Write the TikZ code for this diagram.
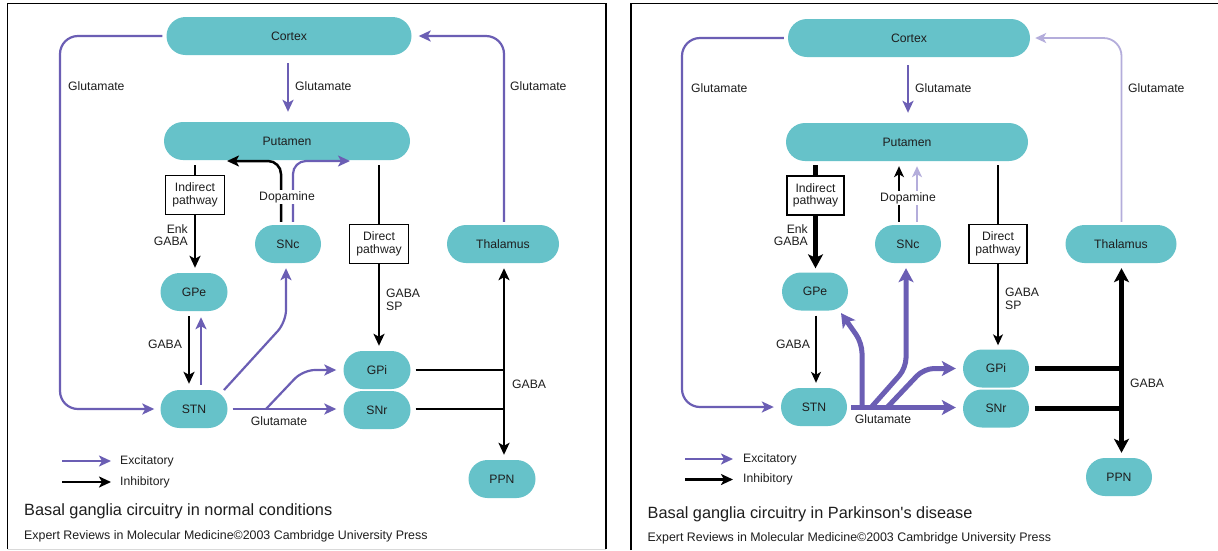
\documentclass[tikz,border=0pt]{standalone}
\usepackage{fontspec}
\setmainfont{Liberation Sans}
\usetikzlibrary{arrows.meta,shapes.misc,calc}
\definecolor{nodeteal}{HTML}{66C2C9}
\definecolor{purp}{HTML}{6B5EB4}
\definecolor{lpurp}{HTML}{B4ADDB}
\definecolor{txt}{HTML}{1E1E1E}
\tikzset{
  pill/.style={rounded rectangle, fill=nodeteal, draw=none, minimum height=38pt, inner sep=0pt, font=\fontsize{12.2}{14}\selectfont, text=txt},
  pathbox/.style={rectangle, draw=black, line width=1.3pt, fill=white, minimum height=39pt, inner sep=0pt, align=center, font=\fontsize{12.2}{12.5}\selectfont, text=txt},
  lbl/.style={inner sep=0pt, font=\fontsize{12.2}{12.5}\selectfont, text=txt},
  ttl/.style={inner sep=0pt, anchor=west, font=\fontsize{16.3}{18}\selectfont, text=txt},
  cred/.style={inner sep=0pt, anchor=west, font=\fontsize{12.4}{14}\selectfont, text=txt},
  exc/.style={draw=purp, line width=2.2pt, -{Stealth[length=12pt,width=11pt,inset=3pt]}},
  inh/.style={draw=black, line width=2.5pt, -{Stealth[length=12pt,width=11pt,inset=3pt]}},
  inhboth/.style={draw=black, line width=2.5pt, {Stealth[length=12pt,width=11pt,inset=3pt]}-{Stealth[length=12pt,width=11pt,inset=3pt]}},
  blk/.style={draw=black, line width=2.5pt},
  thinblk/.style={draw=black, line width=1.3pt},
  thininh/.style={draw=black, line width=1.3pt, -{Stealth[length=11pt,width=10pt,inset=3pt]}},
  thinexcl/.style={draw=lpurp, line width=1.8pt, -{Stealth[length=11pt,width=10pt,inset=3pt]}},
  thkexc/.style={draw=purp, line width=5pt, -{Stealth[length=14pt,width=15pt,inset=3.5pt]}},
  thkblk/.style={draw=black, line width=5pt},
  thkinh/.style={draw=black, line width=5pt, -{Stealth[length=14pt,width=15pt,inset=3.5pt]}},
  thkinhboth/.style={draw=black, line width=5pt, {Stealth[length=14pt,width=15pt,inset=3.5pt]}-{Stealth[length=14pt,width=15pt,inset=3.5pt]}},
  whitelbl/.style={lbl, fill=white, inner sep=1.5pt}
}
\begin{document}
\begin{tikzpicture}[x=1pt,y=-1pt]
\useasboundingbox (0,0) rectangle (1218,550);
\fill[white] (0,0) rectangle (1218,550);
% frames
\draw[line width=1.2pt] (7.5,549) -- (7.5,3.5) -- (606,3.5) -- (606,549);
\draw[black!15, line width=1pt] (7.5,549) -- (606,549);
\draw[line width=1.2pt] (631,550) -- (631,3.5) -- (1218,3.5);

% ================= LEFT PANEL =================
\node[pill, minimum width=245pt] (Lcortex) at (289,36) {Cortex};
\node[pill, minimum width=246pt] (Lput) at (287,141) {Putamen};
\node[pathbox, minimum width=59pt] (Lind) at (195,195) {Indirect\\pathway};
\node[pill, minimum width=67pt] (Lgpe) at (194,292) {GPe};
\node[pill, minimum width=67pt] (Lstn) at (194,409) {STN};
\node[pill, minimum width=66pt] (Lsnc) at (288,244) {SNc};
\node[pathbox, minimum width=59pt] (Ldir) at (379,244) {Direct\\pathway};
\node[pill, minimum width=67pt] (Lgpi) at (377,370) {GPi};
\node[pill, minimum width=67pt] (Lsnr) at (377,410) {SNr};
\node[pill, minimum width=112pt] (Lthal) at (503,244) {Thalamus};
\node[pill, minimum width=67pt] (Lppn) at (502,479) {PPN};

% cortex -> putamen
\draw[exc] ($(Lcortex.south)+(-1,8)$) -- ($(Lcortex.south |- Lput.north)+(-1,-10)$);
\node[lbl, anchor=west] (LglutC) at (295,86) {Glutamate};
% cortex -> STN loop
\draw[exc, rounded corners=18pt] ($(Lcortex.west)+(-4,0)$) -- (60,36) -- (60,409) -- ($(Lstn.west)+(-6,0)$);
\node[lbl, anchor=west] (LglutL) at (68,86) {Glutamate};
% thalamus -> cortex loop
\draw[exc, rounded corners=18pt] ($(Lthal.north)+(1,-3)$) -- (504,36) -- ($(Lcortex.east)+(7,0)$);
\node[lbl, anchor=west] (LglutR) at (510,86) {Glutamate};
% indirect pathway
\draw[blk] ($(Lput.south -| Lind)+(0,5)$) -- (Lind.north);
\draw[inh] (Lind.south) -- ($(Lind.south |- Lgpe.north)+(0,-5)$);
\node[lbl, anchor=east, align=right] (Lenk) at (188,235) {Enk\\GABA};
% GPe <-> STN
\draw[inh] ($(Lgpe.south)+(-5,5)$) -- ($(Lgpe.south |- Lstn.north)+(-5,-6)$);
\draw[exc] ($(Lstn.north)+(7,-5)$) -- ($(Lstn.north |- Lgpe.south)+(7,6)$);
\node[lbl] (LgabaA) at (165,344) {GABA};
% dopamine
\draw[inh, rounded corners=13pt] ($(Lsnc.north)+(-7,-3)$) -- (281,161) -- (227,161);
\draw[exc, rounded corners=13pt] ($(Lsnc.north)+(5,-3)$) -- (293,161) -- (350,161);
\node[whitelbl] (Ldop) at (287,197) {Dopamine};
% direct pathway
\draw[blk] ($(Lput.south -| Ldir)+(0,5)$) -- (Ldir.north);
\draw[inh] (Ldir.south) -- ($(Ldir.south |- Lgpi.north)+(0,-5)$);
\node[lbl, anchor=west, align=left] (Lgsp) at (386,300) {GABA\\SP};
% STN outputs
\draw[exc, rounded corners=12pt] ($(Lstn.center)+(30,-19)$) -- (286,322) -- ($(Lsnc.south)+(-2,5)$);
\draw[exc] ($(Lstn.east)+(5,0)$) -- ($(Lstn.east -| Lsnr.west)+(-7,0)$);
\coordinate (Lbr) at (266,409);
\draw[exc, rounded corners=12pt] (Lbr) -- (303,370) -- ($(Lgpi.west)+(-7,0)$);
\node[lbl] (LglutS) at (279,421) {Glutamate};
% GPi/SNr outputs
\draw[blk] ($(Lgpi.east)+(5,0)$) -- (504,370);
\draw[blk] ($(Lsnr.east)+(5,-1)$) -- (504,409);
\draw[inhboth] ($(Lthal.south)+(1,5)$) -- ($(Lppn.north)+(2,-5)$);
\node[lbl, anchor=west] (LgabaO) at (512,384) {GABA};
% legend
\node[lbl, anchor=west] (Lexcl) at (120,461) {Excitatory};
\node[lbl, anchor=west] (Linhl) at (120,482) {Inhibitory};
\draw[exc] ($(Lexcl.west)+(-58,0)$) -- ($(Lexcl.west)+(-9,0)$);
\draw[inh] ($(Linhl.west)+(-58,0)$) -- ($(Linhl.west)+(-9,0)$);
\node[ttl] (Ltitle) at (24,511) {Basal ganglia circuitry in normal conditions};
\node[cred] (Lcred) at (24,536) {Expert Reviews in Molecular Medicine©2003 Cambridge University Press};

% ================= RIGHT PANEL =================
\node[pill, minimum width=242pt] (Rcortex) at (909,38) {Cortex};
\node[pill, minimum width=242pt] (Rput) at (907,142) {Putamen};
\node[pathbox, minimum width=57pt] (Rind) at (815.5,195.5) {Indirect\\pathway};
\node[pill, minimum width=66pt] (Rgpe) at (815,291.5) {GPe};
\node[pill, minimum width=66pt] (Rstn) at (814,407) {STN};
\node[pill, minimum width=66pt] (Rsnc) at (908,244) {SNc};
\node[pathbox, minimum width=58pt] (Rdir) at (998,244) {Direct\\pathway};
\node[pill, minimum width=66pt] (Rgpi) at (996,368.5) {GPi};
\node[pill, minimum width=66pt] (Rsnr) at (996,408.5) {SNr};
\node[pill, minimum width=111pt] (Rthal) at (1121,244) {Thalamus};
\node[pill, minimum width=66pt] (Rppn) at (1119,477) {PPN};

% cortex -> putamen
\draw[exc] ($(Rcortex.south)+(-1,8)$) -- ($(Rcortex.south |- Rput.north)+(-1,-10)$);
\node[lbl, anchor=west] (RglutC) at (915,88) {Glutamate};
% cortex -> STN loop
\draw[exc, rounded corners=18pt] ($(Rcortex.west)+(-4,0)$) -- (682,38) -- (682,407) -- ($(Rstn.west)+(-7,0)$);
\node[lbl, anchor=west] (RglutL) at (691,88) {Glutamate};
% thalamus -> cortex loop (weak)
\draw[thinexcl, rounded corners=18pt] ($(Rthal.north)+(0.5,-3)$) -- (1121.5,38) -- ($(Rcortex.east)+(5,0)$);
\node[lbl, anchor=west] (RglutR) at (1128,88) {Glutamate};
% indirect pathway (strong)
\draw[thkblk] ($(Rput.south -| Rind)+(0,4)$) -- (Rind.north);
\draw[thkinh] (Rind.south) -- ($(Rind.south |- Rgpe.north)+(0,-4)$);
\node[lbl, anchor=east, align=right] (Renk) at (808,235) {Enk\\GABA};
% GPe -> STN (weak)
\draw[thininh] ($(Rgpe.south)+(1,5)$) -- ($(Rgpe.south |- Rstn.north)+(1,-5)$);
\node[lbl] (RgabaA) at (793,344) {GABA};
% dopamine (weak)
\draw[thininh] ($(Rsnc.north)+(-9,-3)$) -- ($(Rsnc.north |- Rput.south)+(-9,5)$);
\draw[thinexcl] ($(Rsnc.north)+(9,-3)$) -- ($(Rsnc.north |- Rput.south)+(9,5)$);
\node[whitelbl] (Rdop) at (908,198) {Dopamine};
% direct pathway (weak)
\draw[thinblk] ($(Rput.south -| Rdir)+(0,4)$) -- (Rdir.north);
\draw[thininh] (Rdir.south) -- ($(Rdir.south |- Rgpi.north)+(0,-4)$);
\node[lbl, anchor=west, align=left] (Rgsp) at (1005,299) {GABA\\SP};
% STN outputs (strong)
\draw[thkexc] ($(Rstn.east)+(4,0.5)$) -- ($(Rstn.east -| Rsnr.west)+(-7,0.5)$);
\coordinate (Rb1) at (862,407.5);
\draw[thkexc, rounded corners=10pt] (Rb1) -- (862,343) -- ($(Rgpe.center)+(26,21.5)$);
\coordinate (Rb2) at (871,407.5);
\draw[thkexc, rounded corners=10pt] (Rb2) -- (906,368) -- ($(Rsnc.south)+(-2,5)$);
\coordinate (Rb3) at (887,407.5);
\draw[thkexc, rounded corners=10pt] (Rb3) -- (924,368.5) -- ($(Rgpi.west)+(-7,0)$);
\node[lbl] (RglutS) at (883,419) {Glutamate};
% GPi/SNr outputs (strong)
\draw[thkblk] ($(Rgpi.east)+(6,0)$) -- (1121.5,368.5);
\draw[thkblk] ($(Rsnr.east)+(6,-0.5)$) -- (1121.5,408);
\draw[thkinhboth] ($(Rthal.south)+(0.5,5)$) -- ($(Rppn.north)+(2.5,-5)$);
\node[lbl, anchor=west] (RgabaO) at (1130,383) {GABA};
% legend
\node[lbl, anchor=west] (Rexcl) at (743,459) {Excitatory};
\node[lbl, anchor=west] (Rinhl) at (743,479.5) {Inhibitory};
\draw[exc] ($(Rexcl.west)+(-58,0)$) -- ($(Rexcl.west)+(-10,0)$);
\draw[inh] ($(Rinhl.west)+(-58,0)$) -- ($(Rinhl.west)+(-10,0)$);
\node[ttl] (Rtitle) at (647.5,514) {Basal ganglia circuitry in Parkinson\textquotesingle s disease};
\node[cred] (Rcred) at (647.5,538.5) {Expert Reviews in Molecular Medicine©2003 Cambridge University Press};
\end{tikzpicture}
\end{document}
